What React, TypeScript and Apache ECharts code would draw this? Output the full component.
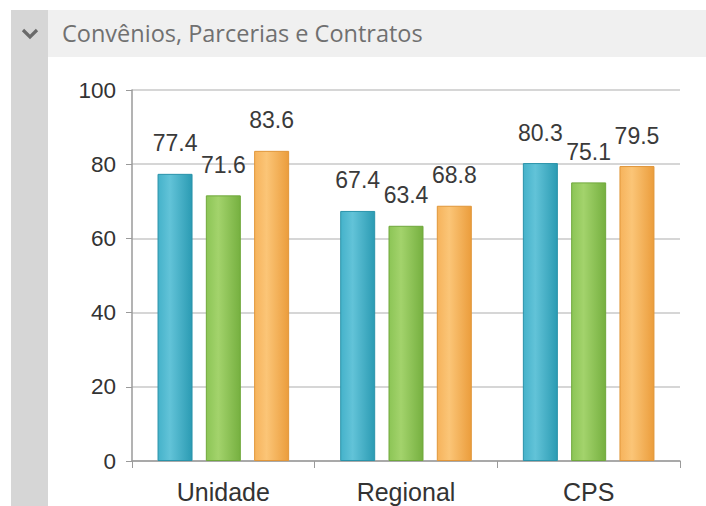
import React, { useEffect, useRef } from "react";
import * as echarts from "echarts";

const categories = ["Unidade", "Regional", "CPS"];
const seriesBlue = [77.4, 67.4, 80.3];
const seriesGreen = [71.6, 63.4, 75.1];
const seriesOrange = [83.6, 68.8, 79.5];
const titleText = "Convênios, Parcerias e Contratos";

const grad = (light: string, mid: string, dark: string) =>
  new echarts.graphic.LinearGradient(0, 0, 1, 0, [
    { offset: 0, color: mid },
    { offset: 0.35, color: light },
    { offset: 1, color: dark },
  ]);

export default function App() {
  const ref = useRef<HTMLDivElement>(null);
  useEffect(() => {
    if (!ref.current) return;
    const chart = echarts.init(ref.current, null, { renderer: "svg" });
    const font = "'Liberation Sans', Arial, sans-serif";
    const label = {
      show: true,
      position: "top" as const,
      distance: 19,
      fontSize: 23,
      fontFamily: font,
      color: "#3a3a3a",
    };
    const mk = (name: string, data: number[], light: string, mid: string, dark: string, border: string) => ({
      name,
      type: "bar" as const,
      data,
      barWidth: 35,
      barGap: "38%",
      itemStyle: { color: grad(light, mid, dark), borderColor: border, borderWidth: 1 },
      label,
    });
    chart.setOption({
      animation: false,
      backgroundColor: "#ffffff",
      graphic: [
        { type: "rect", shape: { x: 11, y: 10, width: 37, height: 496 }, style: { fill: "#d6d6d6" } },
        { type: "rect", shape: { x: 48, y: 10, width: 658, height: 47 }, style: { fill: "#f0f0f0" } },
        {
          type: "polyline",
          shape: { points: [[23, 30], [30, 37], [37, 30]] },
          style: { stroke: "#6a6a6a", lineWidth: 3.2, fill: null },
        },
        {
          type: "text",
          x: 62,
          y: 33,
          style: {
            text: titleText,
            fontSize: 23.5,
            fontFamily: "'Open Sans', sans-serif",
            fill: "#707070",
            verticalAlign: "middle",
          },
        },
      ],
      grid: { left: 132, right: 26, top: 90, bottom: 45 },
      xAxis: {
        type: "category",
        data: categories,
        axisLine: { lineStyle: { color: "#9a9a9a", width: 1.5 } },
        axisTick: { show: true, length: 7, lineStyle: { color: "#9a9a9a" } },
        axisLabel: { fontSize: 25, fontFamily: font, color: "#333", margin: 18 },
      },
      yAxis: {
        type: "value",
        min: 0,
        max: 100,
        interval: 20,
        axisLine: { show: true, lineStyle: { color: "#9a9a9a", width: 1.5 } },
        axisTick: { show: true, length: 6, lineStyle: { color: "#9a9a9a" } },
        axisLabel: { fontSize: 22.5, fontFamily: font, color: "#333", margin: 16 },
        splitLine: { lineStyle: { color: "#c8c8c8", width: 1.5 } },
      },
      series: [
        mk("A", seriesBlue, "#62c3d8", "#45b2ca", "#2b9bb3", "#2a93aa"),
        mk("B", seriesGreen, "#a3d36c", "#8cc556", "#76b040", "#70a83c"),
        mk("C", seriesOrange, "#fbc577", "#f6b35c", "#eb9d3c", "#e0963a"),
      ],
    });
    return () => chart.dispose();
  }, []);
  return (
    <div
      ref={ref}
      style={{ position: "fixed", left: 0, top: 0, width: 706, height: 506 }}
    />
  );
}
